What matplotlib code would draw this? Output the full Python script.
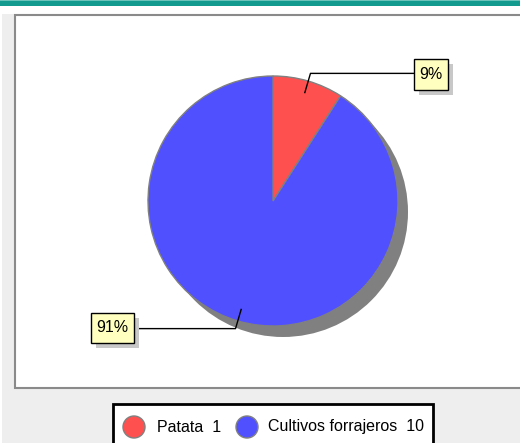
import numpy as np
import matplotlib
matplotlib.use("Agg")
import matplotlib.pyplot as plt
from matplotlib.patches import Rectangle, Circle

W, H = 520, 443

categories = ["Patata", "Cultivos forrajeros"]
values = [1, 10]
colors = ["#FF5050", "#5050FF"]

# label box placement in pixels (left/right edge, centre y) - layout only
LABEL_BOXES = [
    {"x0": 414, "w": 34, "yc": 74.5, "h": 31},
    {"x0": 91, "w": 43, "yc": 328, "h": 30},
]

CX, CY, R = 273, 201, 125
SHADOW_DX, SHADOW_DY = 10, 11


def Y(y):
    # pixel row (from top) to data y
    return H - y


fig = plt.figure(figsize=(W / 100, H / 100), dpi=100, facecolor="#EEEEEE")
ax = fig.add_axes([0, 0, 1, 1])
ax.set_facecolor("#EEEEEE")

# white margins at top and left, teal band
ax.add_patch(Rectangle((0, Y(14)), W, 14, facecolor="white", edgecolor="none", zorder=0))
ax.add_patch(Rectangle((0, 0), 2, H, facecolor="white", edgecolor="none", zorder=0))
ax.add_patch(Rectangle((0, Y(6)), W, 6, facecolor="#139B8F", edgecolor="none", zorder=1))
ax.add_patch(Rectangle((0, Y(1)), W, 1, facecolor="#6CC4BB", edgecolor="none", zorder=1))

# plot panel
ax.add_patch(Rectangle((15, Y(388)), W, 388 - 15, facecolor="white",
                       edgecolor="#8A8A8A", linewidth=1.5, zorder=1))

# shadow + pie
ax.add_patch(Circle((CX + SHADOW_DX, Y(CY + SHADOW_DY)), R, facecolor="#808080",
                    edgecolor="none", zorder=2))
wedges, _ = ax.pie(values, colors=colors, startangle=90, counterclock=False,
                   center=(CX, Y(CY)), radius=R,
                   wedgeprops=dict(edgecolor="#808080", linewidth=1))
for w in wedges:
    w.set_zorder(3)

# percentage labels with leader lines
total = sum(values)
start = 0.0
for v, box in zip(values, LABEL_BOXES):
    frac = v / total
    mid = (start + frac / 2) * 2 * np.pi  # clockwise from top
    start += frac
    dx, dy = np.sin(mid), np.cos(mid)
    x1, y1 = CX + 113 * dx, Y(CY) + 113 * dy
    x2, y2 = CX + 133 * dx, Y(CY) + 133 * dy
    right = dx > 0
    bx = box["x0"] if right else box["x0"] + box["w"]
    ax.plot([x1, x2, bx], [y1, y2, y2], color="black", linewidth=1, zorder=4)

    x0, w, h = box["x0"], box["w"], box["h"]
    yb = Y(box["yc"] + h / 2)
    ax.add_patch(Rectangle((x0 + 5, yb - 5), w, h, facecolor="#C8C8C8",
                           edgecolor="none", zorder=4))
    ax.add_patch(Rectangle((x0, yb), w, h, facecolor="#FFFFC0",
                           edgecolor="black", linewidth=1, zorder=5))
    ax.text(x0 + w / 2, yb + h / 2, f"{round(frac * 100)}%", ha="center", va="center",
            fontsize=11.5, family="Liberation Sans", zorder=6)

# legend
ax.add_patch(Rectangle((113, Y(450)), 320, 450 - 404, facecolor="white",
                       edgecolor="black", linewidth=2, zorder=5))
leg_marker_x = [134, 247]
leg_text_x = [157, 268]
for name, v, c, mx, tx in zip(categories, values, colors, leg_marker_x, leg_text_x):
    ax.add_patch(Circle((mx, Y(427)), 11, facecolor=c, edgecolor="#808080",
                        linewidth=1, zorder=6))
    ax.text(tx, Y(427), f"{name}  {v}", ha="left", va="center", fontsize=11.5,
            family="Liberation Sans", zorder=6)

ax.set_xlim(0, W)
ax.set_ylim(0, H)
ax.set_aspect("equal")
ax.axis("off")

fig.savefig("out.png", dpi=100, facecolor=fig.get_facecolor())
